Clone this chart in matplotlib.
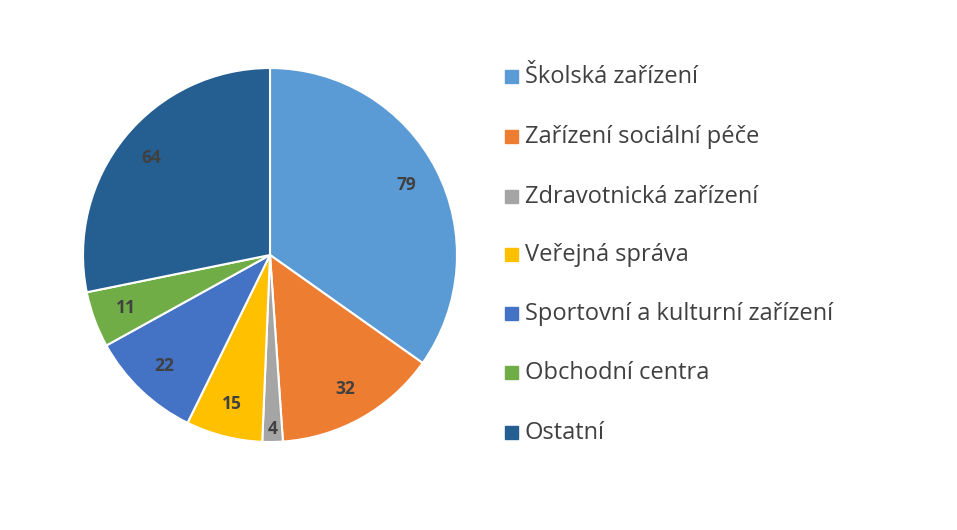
import matplotlib.pyplot as plt
import numpy as np

categories = ["Školská zařízení", "Zařízení sociální péče", "Zdravotnická zařízení",
              "Veřejná správa", "Sportovní a kulturní zařízení", "Obchodní centra", "Ostatní"]
values = [79, 32, 4, 15, 22, 11, 64]
colors = ["#5B9BD5", "#ED7D31", "#A5A5A5", "#FFC000", "#4472C4", "#70AD47", "#255E91"]

W, H = 957, 530
fig = plt.figure(figsize=(W / 100, H / 100), dpi=100)
plt.rcParams['font.family'] = ['Open Sans', 'DejaVu Sans']

cx, cy, R = 270, 255, 187
ax = fig.add_axes([(cx - R) / W, (H - cy - R) / H, 2 * R / W, 2 * R / H])
wedges, texts = ax.pie(values, colors=colors, startangle=90, counterclock=False,
                       wedgeprops=dict(edgecolor="white", linewidth=1.5))
ax.set_xlim(-1, 1)
ax.set_ylim(-1, 1)
ax.set_aspect("equal")

# value labels inside wedges
total = sum(values)
ang = 90.0
for v in values:
    mid = np.deg2rad(ang - v / total * 180)
    r = 0.82 if v > 5 else 0.93
    ax.text(r * np.cos(mid), r * np.sin(mid), str(v), ha="center", va="center",
            fontsize=12.5, fontweight="bold", color="#404040")
    ang -= v / total * 360

# legend drawn manually
rows = [77, 137, 197, 255, 314, 373, 433]
for c, lab, y in zip(colors, categories, rows):
    fig.patches.append(plt.Rectangle((505 / W, (H - y - 6) / H), 13 / W, 13 / H,
                                     transform=fig.transFigure, color=c))
    fig.text(525 / W, (H - y) / H, lab, ha="left", va="center", fontsize=17, color="#404040")

fig.savefig("out.png", dpi=100, facecolor="white")
